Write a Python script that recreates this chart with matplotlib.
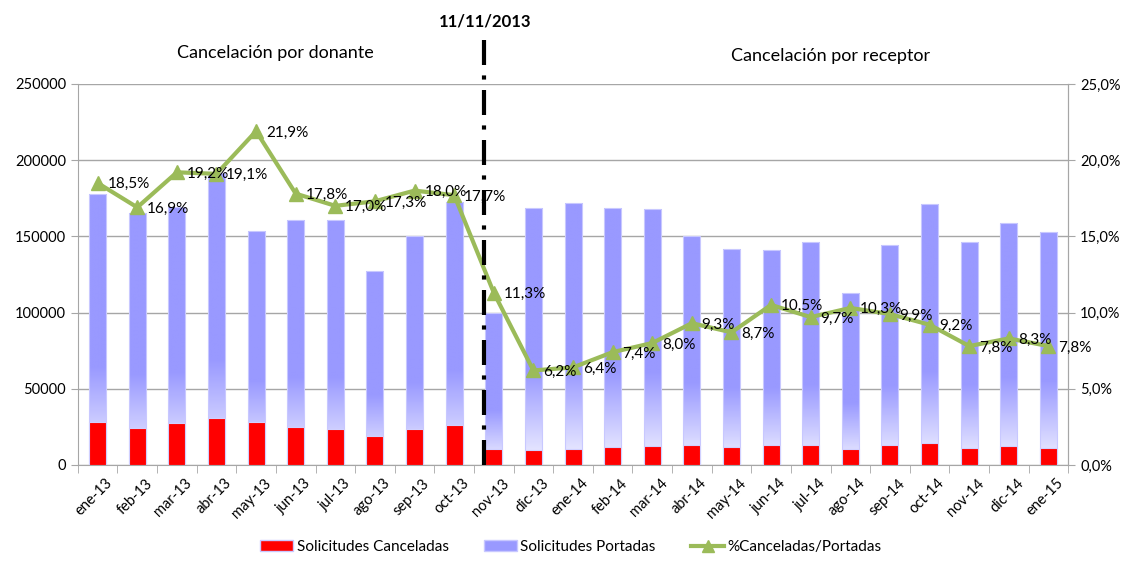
import numpy as np
import matplotlib.pyplot as plt
from matplotlib.patches import Rectangle, Patch
from matplotlib.lines import Line2D
from matplotlib.ticker import FuncFormatter

plt.rcParams['font.family'] = ['Lato', 'DejaVu Sans']

meses = ['ene-13', 'feb-13', 'mar-13', 'abr-13', 'may-13', 'jun-13', 'jul-13', 'ago-13',
         'sep-13', 'oct-13', 'nov-13', 'dic-13', 'ene-14', 'feb-14', 'mar-14', 'abr-14',
         'may-14', 'jun-14', 'jul-14', 'ago-14', 'sep-14', 'oct-14', 'nov-14', 'dic-14', 'ene-15']
portadas = [178000, 165500, 169500, 191500, 153500, 160500, 160500, 127500, 150500, 172500,
            99500, 168500, 172000, 168500, 168000, 150500, 141500, 141000, 146500, 113000,
            144500, 171500, 146500, 159000, 153000]
canceladas = [28400, 24500, 27700, 30800, 27900, 24700, 23800, 19200, 23400, 26200,
              10300, 9900, 10300, 11800, 12400, 12900, 11600, 13300, 12900, 10700,
              13100, 14400, 10900, 12200, 11400]
porcentaje = [18.5, 16.9, 19.2, 19.1, 21.9, 17.8, 17.0, 17.3, 18.0, 17.7, 11.3, 6.2, 6.4,
              7.4, 8.0, 9.3, 8.7, 10.5, 9.7, 10.3, 9.9, 9.2, 7.8, 8.3, 7.8]

azul = (0.6, 0.6, 1.0)
verde = '#9BBB59'
gris = '#A6A6A6'

fig = plt.figure(figsize=(11.28, 5.67), dpi=100)
ax = fig.add_axes([0.069, 0.18, 0.878, 0.672])
x = np.arange(len(meses))
w = 0.43

# degradado de las barras azules (blanco abajo -> azul arriba)
n = 256
t = np.linspace(0, 1, n)
frac = np.clip(t / 0.36, 0, 1)
grad = np.zeros((n, 1, 3))
for k in range(3):
    grad[:, 0, k] = 0.95 + (azul[k] - 0.95) * frac
grad[:, 0, 2] = 1.0

for i, h in enumerate(portadas):
    rect = Rectangle((x[i] - w / 2, 0), w, h, facecolor='none', edgecolor='#C8C8FF', lw=0.8, zorder=3)
    ax.add_patch(rect)
    im = ax.imshow(grad, extent=[x[i] - w / 2, x[i] + w / 2, 0, h], origin='lower',
                   aspect='auto', zorder=2, interpolation='bilinear')
    im.set_clip_path(rect)

ax.bar(x, canceladas, width=w, color='#FF0000', edgecolor='#D0D0FF', lw=0.8, zorder=4)

ax.set_xlim(-0.5, len(meses) - 0.5)
ax.set_ylim(0, 250000)
ax.set_yticks(np.arange(0, 250001, 50000))
ax.yaxis.grid(True, color=gris, lw=1)
ax.set_axisbelow(True)
ax.set_xticks(x + 0.2)
ax.set_xticklabels(meses, rotation=45, ha='right', rotation_mode='anchor', fontsize=10.5)
ax.set_xticks(np.arange(-0.5, len(meses), 1), minor=True)
ax.tick_params(axis='x', which='major', length=0, pad=8)
ax.tick_params(axis='x', which='minor', length=6, color=gris)
ax.tick_params(axis='y', length=5, color=gris, labelsize=10.5)
ax.spines['top'].set_visible(False)
for s in ['left', 'right', 'bottom']:
    ax.spines[s].set_color(gris)

ax2 = ax.twinx()
ax2.set_ylim(0, 25)
ax2.set_yticks(np.arange(0, 26, 5))
ax2.yaxis.set_major_formatter(FuncFormatter(lambda v, p: ('%.1f%%' % v).replace('.', ',')))
ax2.tick_params(axis='y', length=5, color=gris, labelsize=10.5)
for s in ['top', 'left', 'bottom']:
    ax2.spines[s].set_visible(False)
ax2.spines['right'].set_color(gris)
ax2.plot(x, porcentaje, color=verde, lw=3, marker='^', markersize=10, zorder=5)
for i, v in enumerate(porcentaje):
    ax2.annotate(('%.1f%%' % v).replace('.', ','), (x[i], v), xytext=(7, -1),
                 textcoords='offset points', ha='left', va='center', fontsize=11, zorder=8)

# linea 11/11/2013
ax2.plot([9.76, 9.76], [0, 28.4], color='black', lw=3, ls=(0, (6, 2.5, 1, 2.5)),
         clip_on=False, zorder=6)
fig.text(0.43, 0.962, '11/11/2013', ha='center', va='center', fontsize=12, fontweight='bold')
fig.text(0.244, 0.906, 'Cancelación por donante', ha='center', va='center', fontsize=13)
fig.text(0.736, 0.902, 'Cancelación por receptor', ha='center', va='center', fontsize=13)

handles = [Patch(facecolor='#FF0000', edgecolor='#C8C8FF'),
           Patch(facecolor=azul, edgecolor='#C8C8FF'),
           Line2D([0], [0], color=verde, lw=3, marker='^', markersize=8)]
fig.legend(handles, ['Solicitudes Canceladas', 'Solicitudes Portadas', '%Canceladas/Portadas'],
           loc='center', bbox_to_anchor=(0.506, 0.035), ncol=3, frameon=False, fontsize=11,
           handlelength=2.2, handletextpad=0.2, columnspacing=2.3)

fig.savefig('out.png', dpi=100)
